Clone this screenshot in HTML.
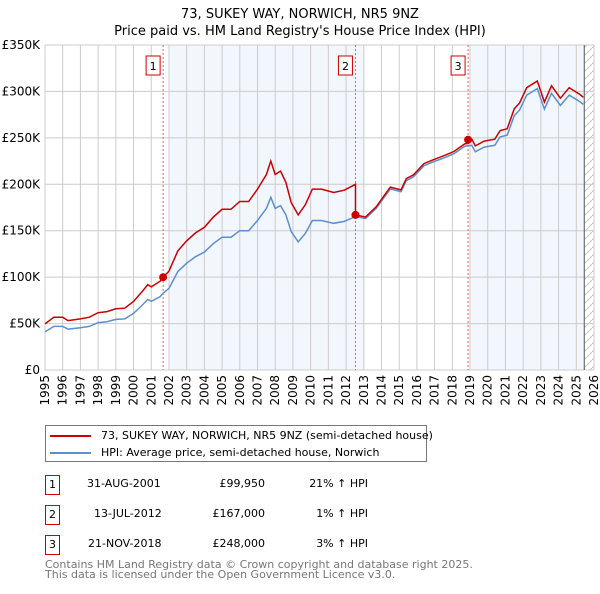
<!DOCTYPE html>
<html><head><meta charset="utf-8"><style>
body{margin:0;background:#fff;font-family:"DejaVu Sans","Liberation Sans",sans-serif;}
svg text{font-family:"DejaVu Sans","Liberation Sans",sans-serif;}
.tb div{white-space:nowrap;}
</style></head><body>
<svg id="c" width="600" height="590" xmlns="http://www.w3.org/2000/svg"></svg>
<script>
const hpiYears=[1995,1995.5,1996,1996.3,1997,1997.5,1998,1998.5,1999,1999.5,2000,2000.5,2000.8,2001,2001.5,2001.67,2002,2002.5,2003,2003.5,2004,2004.5,2005,2005.5,2006,2006.5,2007,2007.5,2007.75,2008,2008.3,2008.6,2008.9,2009.3,2009.7,2010.1,2010.6,2011.3,2011.9,2012.53,2013.1,2013.7,2014.5,2015.1,2015.4,2015.8,2016.4,2016.9,2017.6,2018.1,2018.7,2019.1,2019.3,2019.8,2020.4,2020.7,2021.1,2021.5,2021.8,2022.2,2022.8,2023.2,2023.6,2024.1,2024.6,2025.2,2025.4];
const hpiValues=[41,47,47,44,45.5,47,51,52,54.5,55,61,70,76,74,79,82.6,88,106,115,122,127,136,143,143,150,150,161,174,186,174,177,167,149,138,147,161,161,158,160,165.3,163,174,195,192,204,208,220,224,229,233,241,242,235,240,242,251,253,274,280,296,303,281,298,285,296,289,286];
const saleLabels=["1","2","3"];
const saleYears=[2001.67,2012.53,2018.89];
const salePrices=[99950,167000,248000];
const yTicks=[0,50,100,150,200,250,300,350];
const yTickLabels=["£0","£50K","£100K","£150K","£200K","£250K","£300K","£350K"];
const xTicks=[1995,1996,1997,1998,1999,2000,2001,2002,2003,2004,2005,2006,2007,2008,2009,2010,2011,2012,2013,2014,2015,2016,2017,2018,2019,2020,2021,2022,2023,2024,2025,2026];

const NS="http://www.w3.org/2000/svg",svg=document.getElementById('c');
const L=45,R=594,T=45,B=370;
const xs=y=>L+(y-1995)/(2026-1995)*(R-L);
const ys=v=>B-v/350*(B-T);
function el(t,a,p){const e=document.createElementNS(NS,t);for(const k in a)e.setAttribute(k,a[k]);(p||svg).appendChild(e);return e;}
function hpiAt(y){for(let i=1;i<hpiYears.length;i++){if(y<=hpiYears[i]){const t=(y-hpiYears[i-1])/(hpiYears[i]-hpiYears[i-1]);return hpiValues[i-1]+t*(hpiValues[i]-hpiValues[i-1]);}}return hpiValues[hpiValues.length-1];}

let t=el('text',{x:300,y:18,'text-anchor':'middle','font-size':13,fill:'#000'});t.textContent="73, SUKEY WAY, NORWICH, NR5 9NZ";

t=el('text',{x:300,y:35,'text-anchor':'middle','font-size':13,fill:'#000'});t.textContent="Price paid vs. HM Land Registry's House Price Index (HPI)";


let s=el('rect',{x:xs(2002.05),y:T,width:xs(2013.05)-xs(2002.05),height:B-T,fill:'#f2f6fd'});

s=el('rect',{x:xs(2019.05),y:T,width:xs(2025.45)-xs(2019.05),height:B-T,fill:'#f2f6fd'});

const defs=el('defs',{});
const pat=el('pattern',{id:'h',patternUnits:'userSpaceOnUse',width:8,height:8},defs);
el('path',{d:'M0,8 L8,0',stroke:'#bbb','stroke-width':0.8},pat);
s=el('rect',{x:xs(2025.45),y:T,width:R-xs(2025.45),height:B-T,fill:'url(#h)'});


yTicks.forEach((v,i)=>{
 const g=el('line',{x1:L,x2:R,y1:ys(v),y2:ys(v),stroke:'#cccccc','stroke-width':1});
 
 const tx=el('text',{x:L-5,y:ys(v)+4,'text-anchor':'end','font-size':12,fill:'#000'});tx.textContent=yTickLabels[i];
 
});
xTicks.forEach(y=>{
 const g=el('line',{x1:xs(y),x2:xs(y),y1:T,y2:B,stroke:'#cccccc','stroke-width':1});
 
 const tx=el('text',{x:0,y:0,'text-anchor':'end','font-size':12,fill:'#000',transform:`translate(${xs(y)+4},${B+5}) rotate(-90)`});tx.textContent=y;
 
});
let fl=el('line',{x1:xs(2025.45),x2:xs(2025.45),y1:T,y2:B,stroke:'#555','stroke-width':1});


saleYears.forEach((y,i)=>{
 const d=el('line',{x1:xs(y),x2:xs(y),y1:T,y2:B,stroke:'#e06060','stroke-width':1,'stroke-dasharray':'2,2'});
 
 const b=el('rect',{x:xs(y)-17,y:56,width:14,height:19,fill:'#fff',stroke:'#cc0000','stroke-width':1});
 
 const tx=el('text',{x:xs(y)-10,y:70,'text-anchor':'middle','font-size':11,fill:'#000'});tx.textContent=saleLabels[i];
 
});

let pts=hpiYears.map((y,i)=>xs(y).toFixed(1)+','+ys(hpiValues[i]).toFixed(1)).join(' ');
let pl=el('polyline',{points:pts,fill:'none',stroke:'#5b8fd0','stroke-width':1.5});


function ratioAt(y){let k=0;for(let i=0;i<saleYears.length;i++)if(y>=saleYears[i]-1e-6)k=i;return salePrices[k]/1000/hpiAt(saleYears[k]);}
let rp=[];
hpiYears.forEach((y,i)=>{
 saleYears.forEach((sy,j)=>{
  if(i>0&&sy>hpiYears[i-1]&&sy<y){const r0=j>0?salePrices[j-1]/1000/hpiAt(saleYears[j-1]):salePrices[0]/1000/hpiAt(saleYears[0]);rp.push([sy,hpiAt(sy)*r0]);rp.push([sy,salePrices[j]/1000]);}
 });
 if(saleYears.some(sy=>Math.abs(sy-y)<1e-6)){const j=saleYears.findIndex(sy=>Math.abs(sy-y)<1e-6);const r0=j>0?salePrices[j-1]/1000/hpiAt(saleYears[j-1]):salePrices[0]/1000/hpiAt(saleYears[0]);rp.push([y,hpiValues[i]*r0]);}
 rp.push([y,hpiValues[i]*ratioAt(y)]);
});
pl=el('polyline',{points:rp.map(p=>xs(p[0]).toFixed(1)+','+ys(p[1]).toFixed(1)).join(' '),fill:'none',stroke:'#cc0000','stroke-width':1.5});

saleYears.forEach((y,i)=>{
 const c=el('circle',{cx:xs(y),cy:ys(salePrices[i]/1000),r:4,fill:'#cc0000'});
 
});
</script>
<div style="position:absolute;left:45px;top:425px;width:382px;height:37px;border:1px solid #777;box-sizing:border-box;font-size:11px;">
 <div style="position:absolute;left:4px;top:3px;white-space:nowrap;"><span style="display:inline-block;width:41px;height:2px;background:#cc0000;vertical-align:middle;margin-right:10px;"></span>73, SUKEY WAY, NORWICH, NR5 9NZ (semi-detached house)</div>
 <div style="position:absolute;left:4px;top:20px;white-space:nowrap;"><span style="display:inline-block;width:41px;height:2px;background:#5b8fd0;vertical-align:middle;margin-right:10px;"></span>HPI: Average price, semi-detached house, Norwich</div>
</div>
<div class="tb" style="position:absolute;left:0;top:0;font-size:11px;">
 <div>
  <div style="position:absolute;left:45px;top:475px;width:13px;height:18px;border:1px solid #cc0000;text-align:center;line-height:18px;">1</div>
  <div style="position:absolute;left:87px;top:477px;">31-AUG-2001</div>
  <div style="position:absolute;left:180px;width:85px;text-align:right;top:477px;">£99,950</div>
  <div style="position:absolute;left:290px;width:78px;text-align:right;top:477px;">21% ↑ HPI</div>
 </div>
 <div>
  <div style="position:absolute;left:45px;top:505px;width:13px;height:18px;border:1px solid #cc0000;text-align:center;line-height:18px;">2</div>
  <div style="position:absolute;left:94px;top:507px;">13-JUL-2012</div>
  <div style="position:absolute;left:180px;width:85px;text-align:right;top:507px;">£167,000</div>
  <div style="position:absolute;left:290px;width:78px;text-align:right;top:507px;">1% ↑ HPI</div>
 </div>
 <div>
  <div style="position:absolute;left:45px;top:535px;width:13px;height:18px;border:1px solid #cc0000;text-align:center;line-height:18px;">3</div>
  <div style="position:absolute;left:88px;top:537px;">21-NOV-2018</div>
  <div style="position:absolute;left:180px;width:85px;text-align:right;top:537px;">£248,000</div>
  <div style="position:absolute;left:290px;width:78px;text-align:right;top:537px;">3% ↑ HPI</div>
 </div>
</div>
<div style="position:absolute;left:45px;top:560px;font-size:11px;color:#777;line-height:10px;white-space:nowrap;">Contains HM Land Registry data © Crown copyright and database right 2025.<br>This data is licensed under the Open Government Licence v3.0.</div>
</body></html>
